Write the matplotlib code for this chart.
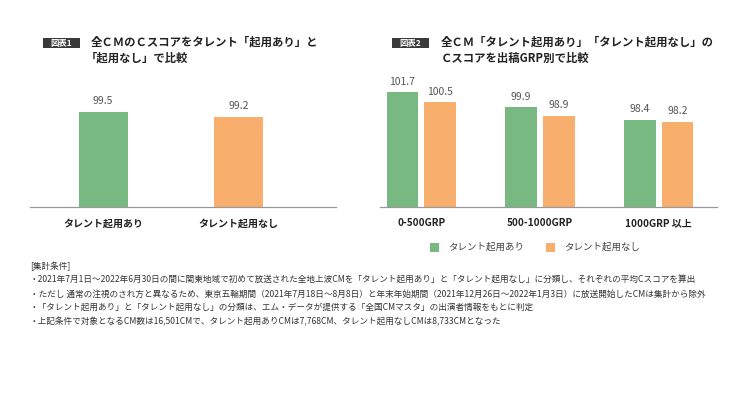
"""Talent casting vs. C-score: two bar panels with notes (recreated figure)."""

import matplotlib

matplotlib.use("Agg")
import matplotlib.pyplot as plt
import numpy as np
from matplotlib.patches import Rectangle

plt.rcParams["font.family"] = ["Noto Sans CJK JP", "DejaVu Sans"]

# data
SERIES = ["タレント起用あり", "タレント起用なし"]
panel1_values = [99.5, 99.2]
grp_bins = ["0-500GRP", "500-1000GRP", "1000GRP 以上"]
grp_with_talent = [101.7, 99.9, 98.4]
grp_without_talent = [100.5, 98.9, 98.2]

title1 = ["全ＣＭのＣスコアをタレント「起用あり」と", "「起用なし」で比較"]
title2 = ["全ＣＭ「タレント起用あり」「タレント起用なし」の", "Ｃスコアを出稿GRP別で比較"]
notes = [
    "[集計条件]",
    "・2021年7月1日〜2022年6月30日の間に関東地域で初めて放送された全地上波CMを「タレント起用あり」と「タレント起用なし」に分類し、それぞれの平均Cスコアを算出",
    "・ただし 通常の注視のされ方と異なるため、東京五輪期間（2021年7月18日〜8月8日）と年末年始期間（2021年12月26日〜2022年1月3日）に放送開始したCMは集計から除外",
    "・「タレント起用あり」と「タレント起用なし」の分類は、エム・データが提供する「全国CMマスタ」の出演者情報をもとに判定",
    "・上記条件で対象となるCM数は16,501CMで、タレント起用ありCMは7,768CM、タレント起用なしCMは8,733CMとなった",
]

GREEN = "#78b982"
ORANGE = "#f8ae6c"
COLORS = [GREEN, ORANGE]
W, H = 750, 394


def fx(px):
    return px / W


def fy(py):
    return 1 - py / H


def style_axis(ax):
    for side in ("top", "left", "right"):
        ax.spines[side].set_visible(False)
    ax.spines["bottom"].set_color("#999999")
    ax.spines["bottom"].set_linewidth(0.9)
    ax.set_yticks([])
    ax.tick_params(axis="x", length=0, pad=8)


def label_bars(ax, bars):
    for b in bars:
        ax.annotate(f"{b.get_height():.1f}", xy=(b.get_x() + b.get_width() / 2, b.get_height()),
                    xytext=(0, 4), textcoords="offset points", ha="center", va="bottom",
                    fontsize=7.5, color="#555555")


def panel_title(box_x, text_x, label, lines, indent2=0):
    fig.patches.append(Rectangle((fx(box_x), fy(47.5)), fx(37), 9 / H, transform=fig.transFigure,
                                 facecolor="#3a3a3a", edgecolor="none"))
    fig.text(fx(box_x + 18.5), fy(43.2), label, color="white", fontsize=6, fontweight="bold",
             ha="center", va="center")
    for i, line in enumerate(lines):
        fig.text(fx(text_x + (indent2 if i else 0)), fy(42.5 + 15.5 * i), line, fontsize=8.2,
                 fontweight="bold", color="#222222", ha="left", va="center")


fig = plt.figure(figsize=(7.5, 3.94), dpi=100)

# panel 1
ax1 = fig.add_axes([fx(30), fy(207), fx(306), 122 / H])
x1 = np.arange(len(SERIES))
bars1 = ax1.bar(x1, panel1_values, width=0.362, color=COLORS)
ax1.set_xlim(-0.54, 1.718)
ax1.set_ylim(93.8, 101.1)
style_axis(ax1)
ax1.set_xticks(x1, SERIES, fontsize=7.2, fontweight="bold", color="#222222")
label_bars(ax1, bars1)

# panel 2
ax2 = fig.add_axes([fx(380), fy(207), fx(337), 122 / H])
x2 = np.arange(len(grp_bins))
off = 0.158
bw = 0.266
bars_a = ax2.bar(x2 - off, grp_with_talent, width=bw, color=GREEN)
bars_b = ax2.bar(x2 + off, grp_without_talent, width=bw, color=ORANGE)
ax2.set_xlim(-0.347, 2.49)
ax2.set_ylim(87.9, 102.6)
style_axis(ax2)
ax2.set_xticks(x2, grp_bins, fontsize=7.2, fontweight="bold", color="#222222")
label_bars(ax2, bars_a)
label_bars(ax2, bars_b)

# legend under panel 2
for sx, name, col in [(430, SERIES[0], GREEN), (546, SERIES[1], ORANGE)]:
    fig.patches.append(Rectangle((fx(sx), fy(251.5)), fx(8.5), 8.5 / H, transform=fig.transFigure,
                                 facecolor=col, edgecolor="none"))
    fig.text(fx(sx + 18), fy(247.5), name, fontsize=6.8, color="#444444",
             ha="left", va="center")

panel_title(43, 91, "図表1", title1, indent2=-5)
panel_title(392, 441, "図表2", title2)

for i, line in enumerate(notes):
    fig.text(fx(30), fy(266.5 + 13.7 * i), line, fontsize=6.2, color="#333333", ha="left", va="center")

fig.savefig("out.png", dpi=100)
